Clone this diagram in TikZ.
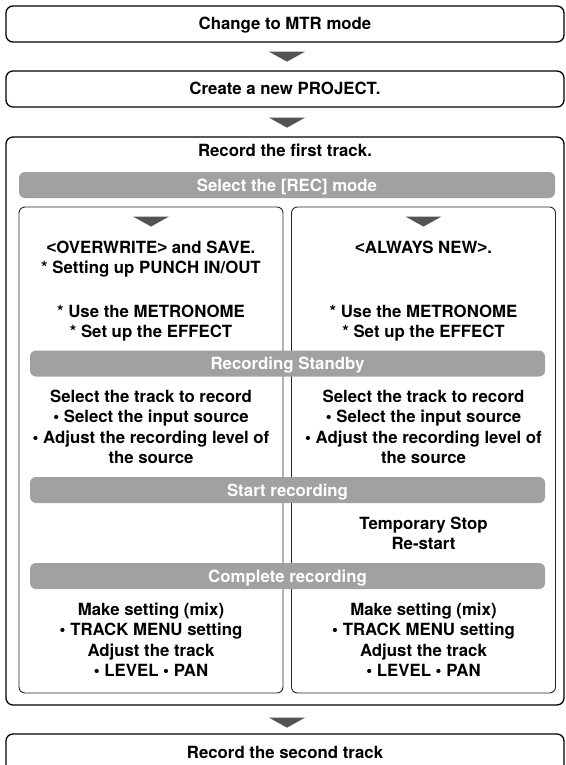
\documentclass[tikz,border=0pt]{standalone}
\usepackage{fontspec}
\setmainfont{TeX Gyre Heros}
\newfontfamily\arialfont{Liberation Sans}
\usetikzlibrary{calc,positioning}
\tikzset{
  stepbox/.style={draw,rounded corners=7pt,line width=1.3pt,minimum width=558pt,inner sep=0pt,text height=12pt,text depth=0pt},
  colbox/.style={draw=black!85,rounded corners=6pt,line width=0.9pt,minimum width=264pt,minimum height=486pt,inner sep=0pt},
  bar/.style={fill=black!37,rounded corners=6pt,text=white,minimum height=26pt,inner sep=0pt,text height=12pt,text depth=0pt},
  txt/.style={align=center,inner sep=0pt},
  tri/.style={fill=black!67}
}
\newcommand{\flowtri}[1]{\fill[tri] ($#1+(-18,0)$) -- ++(36,0) -- ++(-18,-10) -- cycle;}
\newcommand{\opt}[1]{{\arialfont <}#1{\arialfont >}}

\begin{document}
\begin{tikzpicture}[x=1pt,y=1pt,font=\fontsize{16.8}{20.5}\selectfont\bfseries]
  \useasboundingbox (0,0) rectangle (565,-765);
  \clip (0,0) rectangle (565,-765);

  % top steps
  \node[stepbox,minimum height=36pt] (mtr) at (285,-24) {Change to MTR mode};
  \node[stepbox,minimum height=36pt] (proj) at (285,-89) {Create a new PROJECT.};
  \flowtri{(mtr.south)+(2,-9)}
  \flowtri{(proj.south)+(2,-10)}

  % first track
  \node[stepbox,minimum height=568pt] (first) at (285,-421) {};
  \node[txt,text height=12pt,text depth=0pt] (firsttitle) at (285,-151) {Record the first track.};
  \node[colbox] (lcol) at (151,-450) {};
  \node[colbox] (rcol) at (423.5,-450) {};
  \flowtri{(lcol.north)+(0,-10)}
  \flowtri{(rcol.north)+(0,-10)}

  \node[bar,minimum width=536pt] (recmode) at (287,-185) {Select the [REC] mode};
  \node[bar,minimum width=515pt] (standby) at (287.5,-363.5) {Recording Standby};
  \node[bar,minimum width=515pt] (startrec) at (287.5,-490) {Start recording};
  \node[bar,minimum width=515pt] (complete) at (287.5,-576) {Complete recording};

  % left column
  \node[txt] (ovw) at (151,-259) {\opt{OVERWRITE} and SAVE.\\* Setting up PUNCH IN/OUT};
  \node[txt] (lmet) at (151,-323) {* Use the METRONOME\\* Set up the EFFECT};
  \node[txt] (ltrack) at (151,-427) {Select the track to record\\• Select the input source\\• Adjust the recording level of\\the source};
  \node[txt] (lmix) at (151,-639.5) {Make setting (mix)\\• TRACK MENU setting\\Adjust the track\\• LEVEL • PAN};

  % right column
  \node[txt,text height=12pt,text depth=0pt] (alw) at (423.5,-247) {\opt{ALWAYS NEW}.};
  \node[txt] (rmet) at (423.5,-323) {* Use the METRONOME\\* Set up the EFFECT};
  \node[txt] (rtrack) at (423.5,-427) {Select the track to record\\• Select the input source\\• Adjust the recording level of\\the source};
  \node[txt] (pause) at (423.5,-533.5) {Temporary Stop\\Re-start};
  \node[txt] (rmix) at (423.5,-639.5) {Make setting (mix)\\• TRACK MENU setting\\Adjust the track\\• LEVEL • PAN};

  % second track
  \flowtri{(first.south)+(2,-12)}
  \node[stepbox,minimum height=60pt] (second) at (285,-764) {};
  \node[txt,text height=12pt,text depth=0pt] (secondtitle) at (285,-752) {Record the second track};
\end{tikzpicture}
\end{document}
